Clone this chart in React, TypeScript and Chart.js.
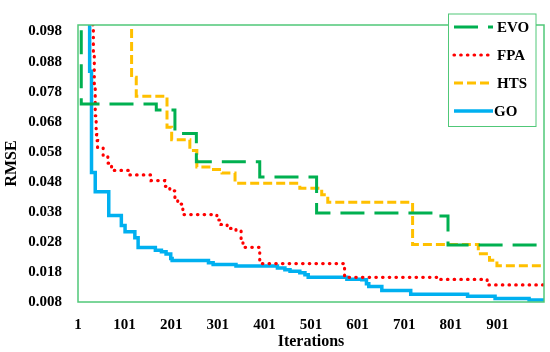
import React, { useEffect, useRef } from "react";
import { Chart, registerables } from "chart.js";

Chart.register(...registerables);

const xTicks = [1, 101, 201, 301, 401, 501, 601, 701, 801, 901];
const yTicks = [0.008, 0.018, 0.028, 0.038, 0.048, 0.058, 0.068, 0.078, 0.088, 0.098];

const seriesNames = ["EVO", "FPA", "HTS", "GO"];

const evoIter = [1, 8, 169, 209, 255, 391, 513, 772, 795, 1001];
const evoVal = [0.12, 0.0739, 0.0719, 0.0641, 0.0547, 0.0496, 0.0376, 0.0366, 0.027, 0.027];

const fpaIter = [1, 33, 34, 36, 38, 40, 41, 43, 55, 65, 73, 112, 158, 187, 198, 209, 215, 226, 299, 308, 321, 340, 351, 355, 391, 573, 774, 879, 1001];
const fpaVal = [0.12, 0.099, 0.09, 0.08, 0.07, 0.0637, 0.0617, 0.0594, 0.0568, 0.0542, 0.0518, 0.0503, 0.0484, 0.0465, 0.045, 0.0428, 0.0406, 0.0371, 0.0353, 0.0338, 0.0325, 0.0316, 0.0285, 0.0262, 0.0208, 0.0162, 0.0155, 0.0137, 0.0137];

const htsIter = [1, 116, 126, 192, 202, 241, 256, 286, 310, 338, 477, 524, 537, 719, 860, 884, 900, 1001];
const htsVal = [0.12, 0.0828, 0.0765, 0.0662, 0.062, 0.0584, 0.0529, 0.0521, 0.0509, 0.0475, 0.0459, 0.0437, 0.0412, 0.0271, 0.0241, 0.0219, 0.0201, 0.0201];

const goIter = [1, 26, 30, 38, 67, 94, 102, 123, 130, 167, 180, 190, 200, 203, 281, 291, 340, 429, 445, 456, 477, 488, 495, 578, 610, 620, 625, 653, 715, 837, 896, 969, 1001];
const goVal = [0.12, 0.0848, 0.0511, 0.0447, 0.0368, 0.0335, 0.0314, 0.0294, 0.0261, 0.0252, 0.0247, 0.024, 0.0225, 0.0218, 0.0211, 0.0205, 0.02, 0.0193, 0.0187, 0.0182, 0.0177, 0.0171, 0.0162, 0.0156, 0.0154, 0.0141, 0.0132, 0.0118, 0.0106, 0.0099, 0.0092, 0.0087, 0.0087];

const FONT = "'Liberation Serif', 'Times New Roman', serif";
const FRAME = "#50C878";

const styles = [
  { color: "#00B050", dash: [24, 10], width: 3, cap: "butt" },
  { color: "#FF0000", dash: [0.5, 6.2], width: 3.2, cap: "round" },
  { color: "#FFC000", dash: [9, 4], width: 3, cap: "butt" },
  { color: "#00B0F0", dash: [], width: 3.5, cap: "butt" },
];

const toPts = (xs: number[], ys: number[]) => xs.map((x, i) => ({ x, y: ys[i] }));

const framePlugin = {
  id: "frame",
  afterDatasetsDraw(chart: any) {
    const { ctx, chartArea: a } = chart;
    ctx.save();
    ctx.strokeStyle = FRAME;
    ctx.lineWidth = 1.5;
    ctx.strokeRect(a.left, a.top, a.right - a.left, a.bottom - a.top);
    ctx.restore();
  },
};

const legendPlugin = {
  id: "customLegend",
  afterDraw(chart: any) {
    const { ctx } = chart;
    ctx.save();
    const bx = 448.5, by = 14, bw = 87.5, bh = 112.5;
    ctx.fillStyle = "#fff";
    ctx.fillRect(bx, by, bw, bh);
    ctx.strokeStyle = FRAME;
    ctx.lineWidth = 1;
    ctx.strokeRect(bx, by, bw, bh);
    seriesNames.forEach((name, i) => {
      const s = styles[i];
      const y = 27 + i * 28;
      ctx.beginPath();
      ctx.setLineDash(s.dash);
      ctx.lineCap = s.cap;
      ctx.strokeStyle = s.color;
      ctx.lineWidth = s.width;
      ctx.moveTo(454, y);
      ctx.lineTo(493, y);
      ctx.stroke();
      ctx.setLineDash([]);
      ctx.fillStyle = "#000";
      ctx.font = `bold 15px ${FONT}`;
      ctx.textBaseline = "middle";
      ctx.textAlign = "left";
      ctx.fillText(name, i === 3 ? 494 : 497, y + 1);
    });
    ctx.restore();
  },
};

export default function App() {
  const ref = useRef<HTMLCanvasElement | null>(null);
  useEffect(() => {
    if (!ref.current) return;
    const all = [
      toPts(evoIter, evoVal),
      toPts(fpaIter, fpaVal),
      toPts(htsIter, htsVal),
      toPts(goIter, goVal),
    ];
    const chart = new Chart(ref.current, {
      type: "line",
      data: {
        datasets: all.map((d, i) => ({
          label: seriesNames[i],
          data: d,
          borderColor: styles[i].color,
          backgroundColor: styles[i].color,
          borderWidth: styles[i].width,
          borderDash: styles[i].dash,
          borderCapStyle: styles[i].cap as any,
          stepped: "before" as any,
          pointRadius: 0,
          fill: false,
          clip: 0 as any,
        })),
      },
      options: {
        responsive: false,
        animation: false,
        devicePixelRatio: 1,
        layout: { padding: { left: 0, right: 6, top: 5.5, bottom: 0 } },
        plugins: { legend: { display: false }, tooltip: { enabled: false } },
        scales: {
          x: {
            type: "linear",
            min: 1,
            max: 1001,
            grid: { display: false, drawTicks: false },
            border: { display: false },
            ticks: {
              font: { family: FONT, size: 15, weight: "bold" },
              color: "#000",
              padding: 14,
              autoSkip: false,
              maxRotation: 0,
              callback: (v: any) => String(v),
            },
            afterBuildTicks: (s: any) => {
              s.ticks = xTicks.map((v) => ({ value: v }));
            },
            afterFit: (s: any) => {
              s.height = 50;
            },
            title: {
              display: true,
              text: "Iterations",
              color: "#000",
              font: { family: FONT, size: 16, weight: "bold" },
              padding: { top: 0, bottom: 1 },
            },
          },
          y: {
            type: "linear",
            min: 0.008,
            max: 0.1002,
            grid: { display: false, drawTicks: false },
            border: { display: false },
            ticks: {
              font: { family: FONT, size: 15, weight: "bold" },
              color: "#000",
              padding: 16,
              autoSkip: false,
              callback: (v: any) => Number(v).toFixed(3),
            },
            afterBuildTicks: (s: any) => {
              s.ticks = yTicks.map((v) => ({ value: v }));
            },
            afterFit: (s: any) => {
              s.width = 78;
            },
            title: {
              display: true,
              text: "RMSE",
              color: "#000",
              font: { family: FONT, size: 16, weight: "bold" },
              padding: { top: 2, bottom: 0 },
            },
          },
        },
      } as any,
      plugins: [framePlugin, legendPlugin],
    });
    return () => chart.destroy();
  }, []);
  return (
    <div style={{ position: "fixed", left: 0, top: 0, width: 550, height: 352, background: "#fff" }}>
      <canvas ref={ref} width={550} height={352} />
    </div>
  );
}
